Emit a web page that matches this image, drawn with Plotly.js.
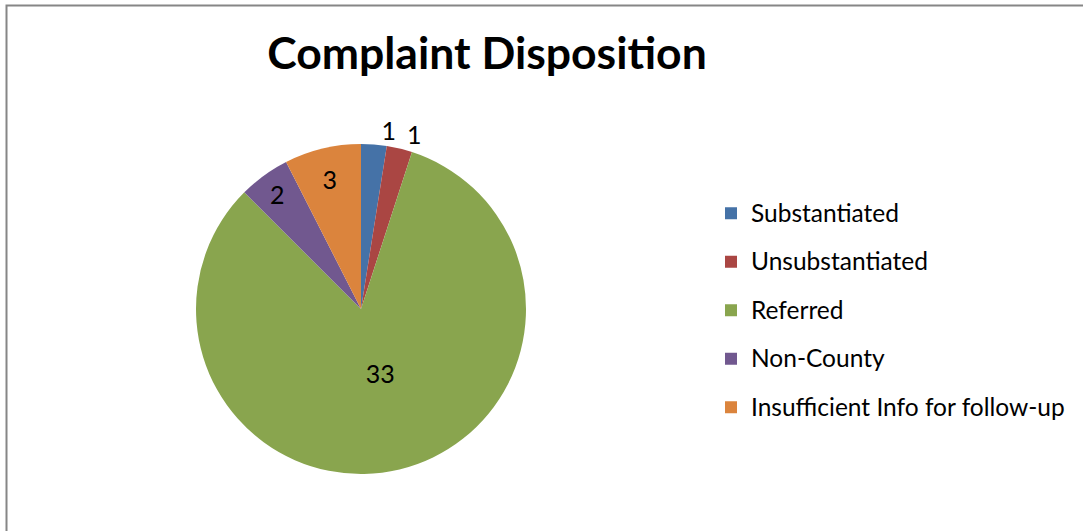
<!DOCTYPE html>
<html><head><meta charset="utf-8">
<script src="https://cdn.plot.ly/plotly-3.0.1.min.js"></script>
<style>html,body{margin:0;padding:0;background:#fff}#chart{width:1083px;height:531px}</style>
</head><body><div id="chart"></div>
<script>
const categories = ["Substantiated", "Unsubstantiated", "Referred", "Non-County", "Insufficient Info for follow-up"];
const counts = [1, 1, 33, 2, 3];
const colors = ["#4572A7", "#AA4643", "#89A54E", "#71588F", "#DB843D"];
// where each slice's count label is drawn (two layers so the two small outside labels are not pushed apart)
const labelPosA = ["outside", "none", "inside", "inside", "inside"];
const labelPosB = ["none", "outside", "none", "none", "none"];
const labelTemplates = ["%{value}", "%{value}", "%{value}<br>\u00a0", "%{value}", "%{value}"];

const W = 1083, H = 531;
const cx = 361, cy = 309, r = 165;
const dom = {x: [(cx - r) / W, (cx + r) / W], y: [(H - cy - r) / H, (H - cy + r) / H]};
const legendLabels = categories.map(c => '<span style="font-size:24.5px;baseline-shift:5px">' + c + '</span>');
const labelFont = {family: "Lato, sans-serif", size: 25, color: "#000"};

const base = {
  type: "pie",
  labels: legendLabels,
  values: counts,
  sort: false,
  direction: "clockwise",
  rotation: 0,
  texttemplate: labelTemplates,
  insidetextorientation: "horizontal",
  textfont: labelFont,
  insidetextfont: labelFont,
  outsidetextfont: labelFont,
  domain: dom,
  hoverinfo: "label+value"
};
const traceA = Object.assign({}, base, {marker: {colors: colors, line: {width: 0}}, textposition: labelPosA});
const traceB = Object.assign({}, base, {marker: {colors: colors.map(() => "rgba(0,0,0,0)"), line: {width: 0}},
                                        textposition: labelPosB, showlegend: false});

const layout = {
  width: W, height: H,
  margin: {l: 0, r: 0, t: 0, b: 0},
  paper_bgcolor: "#fff",
  font: {family: "Lato, sans-serif", color: "#000"},
  uniformtext: {mode: "show", minsize: 25},
  title: {text: "<b>Complaint Disposition</b>", x: 487 / W, xanchor: "center", y: 1 - 53 / H, yanchor: "middle",
          font: {family: "Lato, sans-serif", size: 44.5, color: "#000"}},
  showlegend: true,
  legend: {x: 711 / W, xanchor: "left", y: 1 - 184 / H, yanchor: "top",
           font: {family: "Lato, sans-serif", size: 35, color: "#000"}, bgcolor: "rgba(0,0,0,0)"},
  shapes: [{type: "rect", xref: "paper", yref: "paper", x0: 6.5 / W, x1: 1.05, y0: -0.05, y1: 1 - 5.5 / H,
            line: {color: "#868686", width: 2}, fillcolor: "rgba(0,0,0,0)"}]
};

Plotly.newPlot("chart", [traceA, traceB], layout, {displayModeBar: false, staticPlot: true});
</script></body></html>
